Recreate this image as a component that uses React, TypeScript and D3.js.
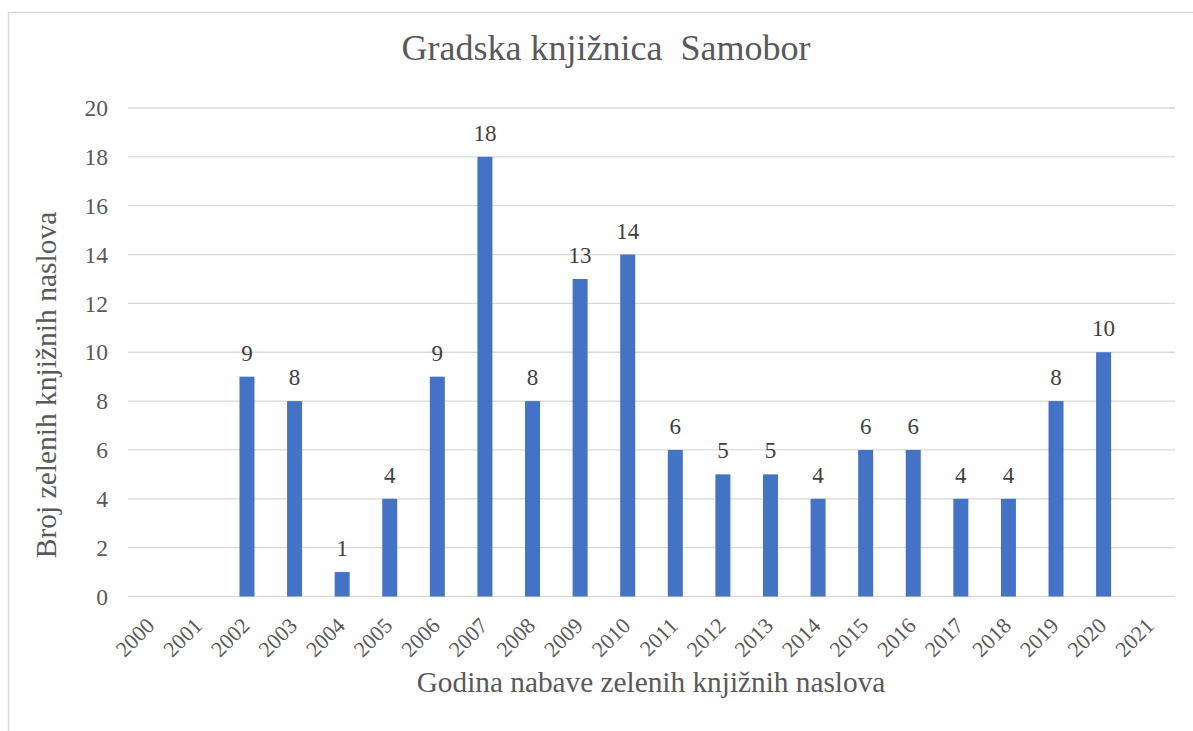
import React, { useEffect, useRef } from "react";
import * as d3 from "d3";

// years on the x axis
const years = [
  "2000", "2001", "2002", "2003", "2004", "2005", "2006", "2007", "2008", "2009", "2010",
  "2011", "2012", "2013", "2014", "2015", "2016", "2017", "2018", "2019", "2020", "2021",
];
// number of green book titles per year (null = no bar)
const counts: (number | null)[] = [
  null, null, 9, 8, 1, 4, 9, 18, 8, 13, 14,
  6, 5, 5, 4, 6, 6, 4, 4, 8, 10, null,
];
const yTicks = [0, 2, 4, 6, 8, 10, 12, 14, 16, 18, 20];

const title = "Gradska knjižnica\u00a0 Samobor";
const xTitle = "Godina nabave zelenih knjižnih naslova";
const yTitle = "Broj zelenih knjižnih naslova";

const App = () => {
  const ref = useRef<SVGSVGElement>(null);

  useEffect(() => {
    const width = 1193, height = 731;
    const margin = { top: 108, right: 18, bottom: 135, left: 128 };
    const svg = d3.select(ref.current);
    svg.selectAll("*").remove();
    svg.attr("width", width).attr("height", height);

    const font = "'Liberation Serif', 'Times New Roman', serif";

    // chart border
    svg.append("rect")
      .attr("x", 8.5).attr("y", 12.5)
      .attr("width", 1200).attr("height", 800)
      .attr("fill", "white")
      .attr("stroke", "#d9d9d9")
      .attr("stroke-width", 1.5);

    const x = d3.scaleBand()
      .domain(years)
      .range([margin.left, width - margin.right])
      .paddingInner(0.685)
      .paddingOuter(0.3425);

    const y = d3.scaleLinear()
      .domain([0, 20])
      .range([height - margin.bottom + 0.5, margin.top]);

    const g = svg.append("g");

    // gridlines
    g.selectAll("line.grid")
      .data(yTicks)
      .enter().append("line")
      .attr("class", "grid")
      .attr("x1", margin.left)
      .attr("x2", width - margin.right)
      .attr("y1", d => y(d))
      .attr("y2", d => y(d))
      .attr("stroke", "#d9d9d9")
      .attr("stroke-width", 1.3);

    // y tick labels
    g.selectAll("text.ytick")
      .data(yTicks)
      .enter().append("text")
      .attr("class", "ytick")
      .attr("x", margin.left - 20)
      .attr("y", d => y(d))
      .attr("dy", "0.35em")
      .attr("text-anchor", "end")
      .attr("font-family", font)
      .attr("font-size", 23.5)
      .attr("fill", "#595959")
      .text(d => d);

    const data = years.map((yr, i) => ({ yr, v: counts[i] }));

    // bars
    g.selectAll("rect.bar")
      .data(data.filter(d => d.v !== null))
      .enter().append("rect")
      .attr("class", "bar")
      .attr("x", d => x(d.yr)!)
      .attr("width", x.bandwidth())
      .attr("y", d => y(d.v as number))
      .attr("height", d => y(0) - y(d.v as number))
      .attr("fill", "#4472C4");

    // value labels
    g.selectAll("text.val")
      .data(data.filter(d => d.v !== null))
      .enter().append("text")
      .attr("class", "val")
      .attr("x", d => x(d.yr)! + x.bandwidth() / 2)
      .attr("y", d => y(d.v as number) - 16)
      .attr("text-anchor", "middle")
      .attr("font-family", font)
      .attr("font-size", 23)
      .attr("fill", "#404040")
      .text(d => d.v as number);

    // x tick labels, rotated
    g.selectAll("text.xtick")
      .data(years)
      .enter().append("text")
      .attr("class", "xtick")
      .attr("transform", d => {
        const cx = x(d)! + x.bandwidth() / 2;
        return "translate(" + (cx - 7) + "," + 616 + ") rotate(-45)";
      })
      .attr("dy", "0.71em")
      .attr("text-anchor", "end")
      .attr("font-family", font)
      .attr("font-size", 22)
      .attr("fill", "#595959")
      .text(d => d);

    // title
    svg.append("text")
      .attr("x", 606)
      .attr("y", 60)
      .attr("text-anchor", "middle")
      .attr("font-family", font)
      .attr("font-size", 36)
      .attr("fill", "#595959")
      .text(title);

    // axis titles
    svg.append("text")
      .attr("x", 651)
      .attr("y", 692)
      .attr("text-anchor", "middle")
      .attr("font-family", font)
      .attr("font-size", 29.3)
      .attr("fill", "#595959")
      .text(xTitle);

    svg.append("text")
      .attr("transform", "translate(56," + 385 + ") rotate(-90)")
      .attr("text-anchor", "middle")
      .attr("font-family", font)
      .attr("font-size", 29.5)
      .attr("fill", "#595959")
      .text(yTitle);
  }, []);

  return (
    <svg
      ref={ref}
      style={{ position: "absolute", left: 0, top: 0, display: "block", background: "white" }}
    />
  );
};

export default App;
